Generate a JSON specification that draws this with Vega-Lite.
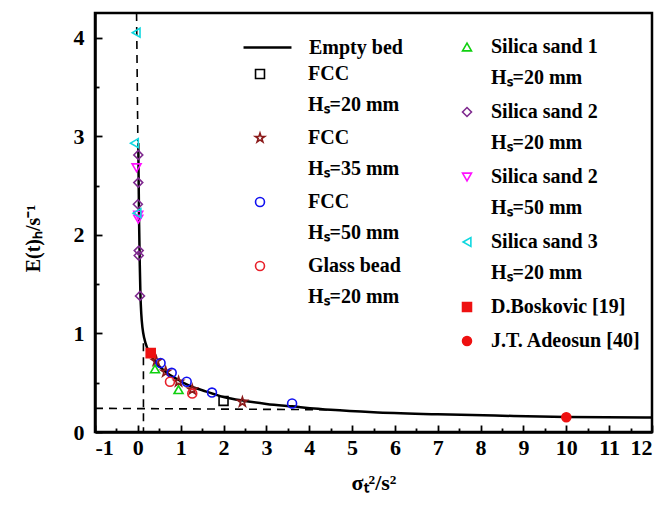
{
  "$schema": "https://vega.github.io/schema/vega-lite/v6.json",
  "width": 557,
  "height": 419,
  "autosize": {"type": "none"},
  "padding": {"left": 95, "top": 13, "right": 13, "bottom": 73},
  "background": "white",
  "data": {"values": [
    {"k": "dash", "seg": "a", "x": -0.03, "y": 4.25},
    {"k": "dash", "seg": "a", "x": 0.0, "y": 2.95},
    {"k": "dash", "seg": "b", "x": 0.13, "y": 0.9},
    {"k": "dash", "seg": "b", "x": 0.131, "y": 0.0},
    {"k": "dash", "seg": "c", "x": -1, "y": 0.24},
    {"k": "dash", "seg": "c", "x": 4.8, "y": 0.225},
    {"k": "curve", "s": "Empty bed", "x": 0.01, "y": 2.93},
    {"k": "curve", "s": "Empty bed", "x": 0.02, "y": 2.5},
    {"k": "curve", "s": "Empty bed", "x": 0.03, "y": 2.1},
    {"k": "curve", "s": "Empty bed", "x": 0.045, "y": 1.7},
    {"k": "curve", "s": "Empty bed", "x": 0.06, "y": 1.4},
    {"k": "curve", "s": "Empty bed", "x": 0.08, "y": 1.2},
    {"k": "curve", "s": "Empty bed", "x": 0.11, "y": 1.05},
    {"k": "curve", "s": "Empty bed", "x": 0.15, "y": 0.95},
    {"k": "curve", "s": "Empty bed", "x": 0.22, "y": 0.85},
    {"k": "curve", "s": "Empty bed", "x": 0.3, "y": 0.78},
    {"k": "curve", "s": "Empty bed", "x": 0.45, "y": 0.69},
    {"k": "curve", "s": "Empty bed", "x": 0.65, "y": 0.61},
    {"k": "curve", "s": "Empty bed", "x": 0.9, "y": 0.54},
    {"k": "curve", "s": "Empty bed", "x": 1.2, "y": 0.47},
    {"k": "curve", "s": "Empty bed", "x": 1.6, "y": 0.41},
    {"k": "curve", "s": "Empty bed", "x": 2.0, "y": 0.355},
    {"k": "curve", "s": "Empty bed", "x": 2.5, "y": 0.315},
    {"k": "curve", "s": "Empty bed", "x": 3.0, "y": 0.285},
    {"k": "curve", "s": "Empty bed", "x": 3.6, "y": 0.26},
    {"k": "curve", "s": "Empty bed", "x": 4.5, "y": 0.225},
    {"k": "curve", "s": "Empty bed", "x": 5.5, "y": 0.2},
    {"k": "curve", "s": "Empty bed", "x": 7.0, "y": 0.18},
    {"k": "curve", "s": "Empty bed", "x": 8.5, "y": 0.165},
    {"k": "curve", "s": "Empty bed", "x": 10.0, "y": 0.152},
    {"k": "curve", "s": "Empty bed", "x": 12.0, "y": 0.147},
    {"k": "A", "s": "FCC|Hₛ=20 mm", "x": 2.0, "y": 0.315},
    {"k": "A", "s": "FCC|Hₛ=35 mm", "x": 0.43, "y": 0.72},
    {"k": "A", "s": "FCC|Hₛ=35 mm", "x": 0.65, "y": 0.61},
    {"k": "A", "s": "FCC|Hₛ=35 mm", "x": 0.95, "y": 0.51},
    {"k": "A", "s": "FCC|Hₛ=35 mm", "x": 1.27, "y": 0.43},
    {"k": "A", "s": "FCC|Hₛ=35 mm", "x": 2.44, "y": 0.305},
    {"k": "A", "s": "FCC|Hₛ=50 mm", "x": 0.53, "y": 0.7},
    {"k": "A", "s": "FCC|Hₛ=50 mm", "x": 0.79, "y": 0.6},
    {"k": "A", "s": "FCC|Hₛ=50 mm", "x": 1.14, "y": 0.51},
    {"k": "A", "s": "FCC|Hₛ=50 mm", "x": 1.73, "y": 0.4},
    {"k": "A", "s": "FCC|Hₛ=50 mm", "x": 3.6, "y": 0.29},
    {"k": "A", "s": "Glass bead|Hₛ=20 mm", "x": 0.75, "y": 0.51},
    {"k": "A", "s": "Glass bead|Hₛ=20 mm", "x": 1.27, "y": 0.39},
    {"k": "B", "s": "Silica sand 1|Hₛ=20 mm", "x": 0.4, "y": 0.64},
    {"k": "B", "s": "Silica sand 1|Hₛ=20 mm", "x": 0.95, "y": 0.43},
    {"k": "B", "s": "Silica sand 2|Hₛ=20 mm", "x": 0.01, "y": 2.81},
    {"k": "B", "s": "Silica sand 2|Hₛ=20 mm", "x": 0.01, "y": 2.53},
    {"k": "B", "s": "Silica sand 2|Hₛ=20 mm", "x": 0.0, "y": 2.31},
    {"k": "B", "s": "Silica sand 2|Hₛ=20 mm", "x": 0.02, "y": 1.84},
    {"k": "B", "s": "Silica sand 2|Hₛ=20 mm", "x": 0.02, "y": 1.79},
    {"k": "B", "s": "Silica sand 2|Hₛ=20 mm", "x": 0.05, "y": 1.38},
    {"k": "B", "s": "Silica sand 2|Hₛ=50 mm", "x": -0.03, "y": 2.68},
    {"k": "B", "s": "Silica sand 2|Hₛ=50 mm", "x": 0.01, "y": 2.2},
    {"k": "B", "s": "Silica sand 2|Hₛ=50 mm", "x": 0.01, "y": 2.16},
    {"k": "B", "s": "Silica sand 3|Hₛ=20 mm", "x": -0.04, "y": 4.05},
    {"k": "B", "s": "Silica sand 3|Hₛ=20 mm", "x": -0.08, "y": 2.93},
    {"k": "B", "s": "Silica sand 3|Hₛ=20 mm", "x": -0.02, "y": 2.22},
    {"k": "B", "s": "D.Boskovic [19]", "x": 0.3, "y": 0.8},
    {"k": "B", "s": "J.T. Adeosun [40]", "x": 10.0, "y": 0.15}
  ]},
  "encoding": {
    "x": {"field": "x", "type": "quantitative",
      "scale": {"domain": [-1, 12], "nice": false, "zero": false},
      "axis": {
        "values": [-1,-0.5,0,0.5,1,1.5,2,2.5,3,3.5,4,4.5,5,5.5,6,6.5,7,7.5,8,8.5,9,9.5,10,10.5,11,11.5,12],
        "labelExpr": "datum.value % 1 === 0 ? '' + datum.value : ''",
        "tickSize": {"condition": {"test": "datum.value % 1 === 0", "value": -7}, "value": -4},
        "labelPadding": 12,
        "title": "σₜ²/s²",
        "titleFontSize": 22,
        "titlePadding": 14
      }},
    "y": {"field": "y", "type": "quantitative",
      "scale": {"domain": [0, 4.25], "nice": false},
      "axis": {
        "values": [0,0.5,1,1.5,2,2.5,3,3.5,4],
        "labelExpr": "datum.value % 1 === 0 ? '' + datum.value : ''",
        "tickSize": {"condition": {"test": "datum.value % 1 === 0", "value": -7}, "value": -4},
        "labelPadding": 18,
        "title": "E(t)ₕ/s⁻¹",
        "titleX": -62,
        "titleY": 225,
        "titleAlign": "center",
        "titleBaseline": "middle"
      }}
  },
  "layer": [
    {
      "transform": [{"filter": "datum.k === 'dash'"}],
      "mark": {"type": "line", "color": "black", "strokeWidth": 1.6, "strokeDash": [8, 6]},
      "encoding": {"detail": {"field": "seg"}}
    },
    {
      "transform": [{"filter": "datum.k === 'curve'"}],
      "mark": {"type": "line", "strokeWidth": 2.5, "interpolate": "monotone"},
      "encoding": {
        "stroke": {"field": "s", "type": "nominal",
          "scale": {"domain": ["Empty bed"], "range": ["black"]},
          "legend": {"orient": "none", "legendX": 147, "legendY": 9, "title": null,
            "symbolType": "stroke", "symbolSize": 2300, "symbolStrokeWidth": 2.5, "symbolStrokeColor": "black",
            "labelOffset": 16}}
      }
    },
    {
      "transform": [{"filter": "datum.k === 'A'"}],
      "mark": {"type": "point", "filled": false, "size": 80, "strokeWidth": 1.6, "opacity": 1},
      "encoding": {
        "stroke": {"field": "s", "type": "nominal",
          "scale": {"domain": ["FCC|Hₛ=20 mm", "FCC|Hₛ=35 mm", "FCC|Hₛ=50 mm", "Glass bead|Hₛ=20 mm"],
                    "range": ["#000000", "#8B1A1A", "#1010F0", "#E8202A"]},
          "legend": {"orient": "none", "legendX": 155, "legendY": 51, "title": null, "labelOffset": 38,
            "labelExpr": "split(datum.label, '|')", "rowPadding": 13}},
        "shape": {"field": "s", "type": "nominal",
          "scale": {"domain": ["FCC|Hₛ=20 mm", "FCC|Hₛ=35 mm", "FCC|Hₛ=50 mm", "Glass bead|Hₛ=20 mm"],
                    "range": ["square", "M0,-1.1L0.247,-0.34L1.046,-0.34L0.399,0.13L0.647,0.89L0,0.42L-0.647,0.89L-0.399,0.13L-1.046,-0.34L-0.247,-0.34Z", "circle", "circle"]},
          "legend": {"orient": "none", "legendX": 155, "legendY": 51, "title": null, "labelOffset": 38,
            "labelExpr": "split(datum.label, '|')", "rowPadding": 13}}
      }
    },
    {
      "transform": [{"filter": "datum.k === 'B'"}],
      "mark": {"type": "point", "size": 80, "strokeWidth": 1.6, "opacity": 1},
      "encoding": {
        "stroke": {"field": "s", "type": "nominal",
          "scale": {"domain": ["Silica sand 1|Hₛ=20 mm", "Silica sand 2|Hₛ=20 mm", "Silica sand 2|Hₛ=50 mm", "Silica sand 3|Hₛ=20 mm", "D.Boskovic [19]", "J.T. Adeosun [40]"],
                    "range": ["#10D010", "#7F2A8F", "#FF10FF", "#10D8E0", "#EE1111", "#EE1111"]},
          "legend": {"orient": "none", "legendX": 362, "legendY": 24, "title": null, "labelOffset": 14,
            "labelExpr": "split(datum.label, '|')", "rowPadding": 14}},
        "fill": {"field": "s", "type": "nominal",
          "scale": {"domain": ["Silica sand 1|Hₛ=20 mm", "Silica sand 2|Hₛ=20 mm", "Silica sand 2|Hₛ=50 mm", "Silica sand 3|Hₛ=20 mm", "D.Boskovic [19]", "J.T. Adeosun [40]"],
                    "range": ["transparent", "transparent", "transparent", "transparent", "#EE1111", "#EE1111"]},
          "legend": {"orient": "none", "legendX": 362, "legendY": 24, "title": null, "labelOffset": 14,
            "labelExpr": "split(datum.label, '|')", "rowPadding": 14}},
        "shape": {"field": "s", "type": "nominal",
          "scale": {"domain": ["Silica sand 1|Hₛ=20 mm", "Silica sand 2|Hₛ=20 mm", "Silica sand 2|Hₛ=50 mm", "Silica sand 3|Hₛ=20 mm", "D.Boskovic [19]", "J.T. Adeosun [40]"],
                    "range": ["triangle-up", "diamond", "triangle-down", "triangle-left", "square", "circle"]},
          "legend": {"orient": "none", "legendX": 362, "legendY": 24, "title": null, "labelOffset": 14,
            "labelExpr": "split(datum.label, '|')", "rowPadding": 14}}
      }
    }
  ],
  "resolve": {
    "scale": {"stroke": "independent", "shape": "independent", "fill": "independent"},
    "legend": {"stroke": "independent", "shape": "independent", "fill": "independent"}
  },
  "config": {
    "font": "Liberation Serif",
    "view": {"stroke": "black", "strokeWidth": 2.5},
    "axis": {
      "grid": false,
      "domainColor": "black",
      "domainWidth": 2.5,
      "tickColor": "black",
      "tickWidth": 1.8,
      "labelColor": "black",
      "labelFont": "Liberation Serif",
      "labelFontWeight": "bold",
      "labelFontSize": 22,
      "titleColor": "black",
      "titleFont": "Liberation Serif",
      "titleFontWeight": "bold",
      "titleFontSize": 20
    },
    "legend": {
      "padding": 0,
      "labelColor": "black",
      "labelFont": "Liberation Serif",
      "labelFontWeight": "bold",
      "labelFontSize": 20,
      "labelLimit": 300,
      "symbolStrokeWidth": 1.6,
      "symbolSize": 80
    },
    "style": {"guide-label": {"lineHeight": 31}}
  }
}
